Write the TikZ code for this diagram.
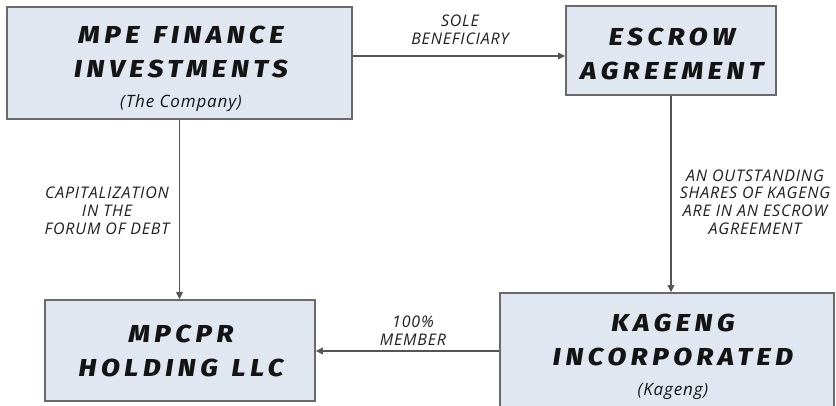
\documentclass[tikz,border=0pt]{standalone}
\usepackage{fontspec}
\setmainfont{Open Sans}
\newfontfamily\ttlfont[LetterSpace=19, WordSpace=1.3, FakeStretch=1.12, BoldItalicFont={Fira Sans ExtraBold Italic}]{Fira Sans}
\newfontfamily\lblfont[LetterSpace=5]{Open Sans}
\usetikzlibrary{arrows.meta}
\definecolor{boxfill}{HTML}{E1E7F1}
\definecolor{boxline}{HTML}{6A6A6A}
\definecolor{arrline}{HTML}{555555}
\tikzset{
  entity/.style={draw=boxline, fill=boxfill, line width=1.6pt, inner sep=0pt},
  ttl/.style={align=center, inner sep=0pt, text=black!92,
    font=\ttlfont\fontsize{24.5}{34}\selectfont\bfseries\itshape},
  arr/.style={draw=arrline, line width=1.3pt, -{Triangle[length=7pt,width=6.5pt]}},
  lbl/.style={align=center, inner sep=0pt, text=black!88,
    font=\lblfont\fontsize{16}{17.8}\selectfont\itshape}
}
\newcommand{\subttl}[1]{{\lblfont\mdseries\fontsize{17}{20}\selectfont\itshape #1}}
\begin{document}
\begin{tikzpicture}[x=1pt,y=-1pt]
\useasboundingbox (0,0) rectangle (836,406);
\clip (0,0) rectangle (836,406);
\node[entity, minimum width=345pt, minimum height=112pt] (mpe) at (179.5,63) {};
\node[entity, minimum width=210pt, minimum height=89pt] (esc) at (671,50.5) {};
\node[entity, minimum width=270pt, minimum height=101pt] (mp) at (180,350.5) {};
\node[entity, minimum width=334pt, minimum height=124pt] (kag) at (667,355) {};

\node[ttl] (mpet) at (181,69) {MPE FINANCE\\INVESTMENTS\\[-4pt]\subttl{(The Company)}};
\node[ttl] (esct) at (672,54) {ESCROW\\AGREEMENT};
\node[ttl] (mpt) at (181,351) {MPCPR\\HOLDING LLC};
\node[ttl] (kagt) at (673,357) {KAGENG\\INCORPORATED\\[-4pt]\subttl{(Kageng)}};

\draw[arr] ([yshift=7pt]mpe.east) -- ([yshift=7pt]mpe.east -| esc.west);
\draw[arr] (mpe.south) -- (mpe.south |- mp.north);
\draw[arr] (esc.south) -- (esc.south |- kag.north);
\draw[arr] ([yshift=4pt]kag.west) -- ([yshift=4pt]kag.west -| mp.east);

\node[lbl] (l1) at (460,30) {SOLE\\BENEFICIARY};
\node[lbl] (l2) at (107,210.5) {CAPITALIZATION\\IN THE\\FORUM OF DEBT};
\node[lbl] (l3) at (755,202) {AN OUTSTANDING\\SHARES OF KAGENG\\ARE IN AN ESCROW\\AGREEMENT};
\node[lbl] (l4) at (413,330.5) {100\%\\MEMBER};
\end{tikzpicture}
\end{document}
